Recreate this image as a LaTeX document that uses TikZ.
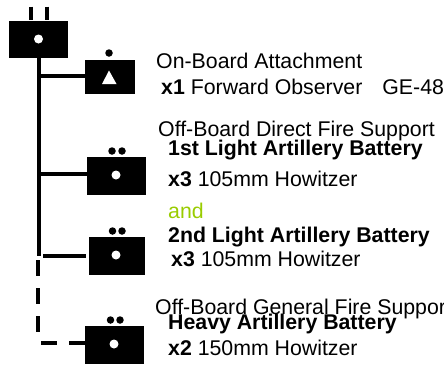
\documentclass[tikz,border=0pt]{standalone}
\usepackage{fontspec}
\setmainfont{Liberation Sans}
\definecolor{andgreen}{HTML}{99CC00}
\tikzset{
  unitbox/.style={fill=black,draw=none,inner sep=0pt,rectangle},
  conn/.style={draw=black,line width=4pt},
  dashconn/.style={conn,dash pattern=on 16pt off 12pt},
  holedot/.style={circle,fill=white,draw=none,inner sep=0pt,minimum size=9pt},
  markdot/.style={circle,fill=black,draw=none,inner sep=0pt,minimum size=7.5pt},
  label/.style={anchor=base west,inner sep=0pt,font=\fontsize{21.3}{21.3}\selectfont},
}
\begin{document}
\begin{tikzpicture}[x=1pt,y=1pt]
\useasboundingbox (0,0) rectangle (444,-367);
\clip (0,0) rectangle (444,-367);
% units
\node[unitbox,minimum width=59pt,minimum height=37.5pt] (hq) at (38.5,-39.5) {};
\node[unitbox,minimum width=50pt,minimum height=34.5pt] (obs) at (110,-77) {};
\node[unitbox,minimum width=59pt,minimum height=38pt] (b1) at (116.5,-176) {};
\node[unitbox,minimum width=56pt,minimum height=38pt] (b2) at (116.5,-256) {};
\node[unitbox,minimum width=59.5pt,minimum height=38pt] (b3) at (114.5,-345) {};
% symbols
\node[holedot] (h0) at (38.5,-39) {};
\node[holedot] (h1) at (116,-175) {};
\node[holedot] (h2) at (116,-255) {};
\node[holedot] (h3) at (114,-344) {};
\node[markdot] (m0) at (109,-53) {};
\node[markdot] (m1a) at (112,-151) {};
\node[markdot] (m1b) at (122,-151) {};
\node[markdot] (m2a) at (112.5,-231) {};
\node[markdot] (m2b) at (122,-231) {};
\node[markdot] (m3a) at (110.5,-320) {};
\node[markdot] (m3b) at (120,-320) {};
\fill[white] (109,-70.5) -- (116.5,-84) -- (102,-84) -- cycle;
% echelon ticks
\coordinate (t1a) at (31,-6.5);
\coordinate (t1b) at (31,-20);
\coordinate (t2a) at (47,-6.5);
\coordinate (t2b) at (47,-20);
\draw[conn] (t1a) -- (t1b);
\draw[conn] (t2a) -- (t2b);
% trunk and branches
\coordinate (trunktop) at (39,-58);
\coordinate (trunkend) at (39,-256);
\coordinate (j1) at (41,-75.5);
\coordinate (j2) at (41,-174);
\coordinate (j3) at (43,-256);
\draw[conn] (trunktop) -- (trunkend);
\draw[conn] (j1) -- (j1 -| obs.west);
\draw[conn] (j2) -- (j2 -| b1.west);
\draw[conn] (j3) -- ([xshift=-2pt]j3 -| b2.west);
% dashed links
\coordinate (d1) at (37.5,-260);
\coordinate (d2) at (37.5,-333);
\coordinate (d3) at (41,-343);
\draw[dashconn] (d1) -- (d2);
\draw[dashconn] (d3 -| b3.west) -- (d3);
% texts
\node[label] (t1) at (156,-68.5) {On-Board Attachment};
\node[label] (t2) at (161,-94) {\textbf{x1} Forward Observer\hspace{20pt}GE-48};
\node[label] (t3) at (158,-136) {Off-Board Direct Fire Support};
\node[label] (t4) at (168,-155) {\textbf{1st Light Artillery Battery}};
\node[label] (t5) at (168,-186) {\textbf{x3} 105mm Howitzer};
\node[label,text=andgreen] (t6) at (168,-218) {and};
\node[label] (t7) at (168,-242) {\textbf{2nd Light Artillery Battery}};
\node[label] (t8) at (171,-266) {\textbf{x3} 105mm Howitzer};
\node[label] (t9) at (155,-314) {Off-Board General Fire Support};
\node[label] (t10) at (168,-329) {\textbf{Heavy Artillery Battery}};
\node[label] (t11) at (168,-355) {\textbf{x2} 150mm Howitzer};
\end{tikzpicture}
\end{document}
